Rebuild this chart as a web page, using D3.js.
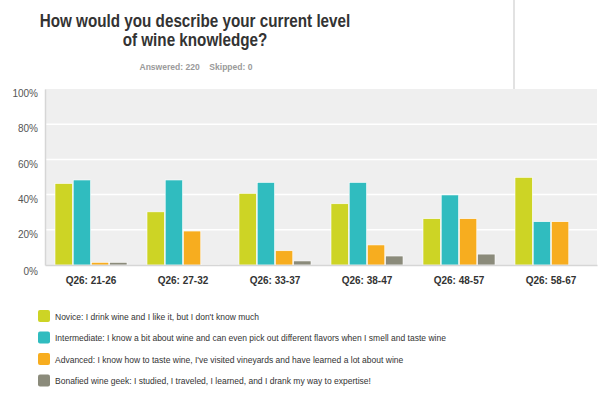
<!DOCTYPE html>
<html><head><meta charset="utf-8">
<script src="https://cdn.jsdelivr.net/npm/d3@7"></script>
<style>body{margin:0;background:#fff;}svg{display:block;font-family:"Liberation Sans",Arial,sans-serif;}</style>
</head><body><svg id="c" width="599" height="396"></svg>
<script>
const categories = ["Q26: 21-26","Q26: 27-32","Q26: 33-37","Q26: 38-47","Q26: 48-57","Q26: 58-67"];
const seriesNames = [
  "Novice: I drink wine and I like it, but I don't know much",
  "Intermediate: I know a bit about wine and can even pick out different flavors when I smell and taste wine",
  "Advanced: I know how to taste wine, I've visited vineyards and have learned a lot about wine",
  "Bonafied wine geek: I studied, I traveled, I learned, and I drank my way to expertise!"
];
const novice       = [46.3, 30.2, 40.7, 34.8, 26.3, 49.8];
const intermediate = [48.3, 48.3, 46.9, 46.9, 39.8, 24.6];
const advanced     = [1.5, 19.3, 8.1, 11.4, 26.3, 24.6];
const geek         = [1.5, 0.4, 2.3, 5.1, 6.2, 0];
const yTicks = [0, 20, 40, 60, 80, 100];
const colors = ["#cdd425","#30bcbf","#f7ad1f","#8b8b7b"];
const series = [novice, intermediate, advanced, geek];

const svg = d3.select("#c");
const L = 45, R = 597, T = 89, B = 265;

function squeeze(sel, f) {
  sel.each(function(){ const w = this.getComputedTextLength();
    d3.select(this).attr("textLength", w*f).attr("lengthAdjust","spacingAndGlyphs"); });
}

// divider line top-right
svg.append("rect").attr("x",513).attr("y",0).attr("width",2).attr("height",T).attr("fill","#e2e2e2");

// title
const title = svg.append("text").attr("text-anchor","middle").attr("fill","#333")
  .attr("font-size",17.5).attr("font-weight","bold");
const t1 = title.append("tspan").attr("x",195).attr("y",27).text("How would you describe your current level");
const t2 = title.append("tspan").attr("x",195).attr("y",46).text("of wine knowledge?");
squeeze(t1, 0.87); squeeze(t2, 0.87);
const sub = svg.append("text").attr("x",196).attr("y",70).attr("text-anchor","middle")
  .attr("fill","#9a9a9a").attr("font-size",9.5).attr("font-weight","bold")
  .attr("xml:space","preserve").text("Answered: 220    Skipped: 0");
squeeze(sub, 0.9);

const x = d3.scaleBand().domain(categories).range([L, R]);
const inner = d3.scaleBand().domain(d3.range(4)).range([0, 72]).paddingInner(0.05);
const y = d3.scaleLinear().domain([0,100]).range([B, T]);

svg.append("rect").attr("x",L).attr("y",T).attr("width",R-L).attr("height",B-T).attr("fill","#efefef");

// gridlines
svg.append("g").selectAll("line").data(yTicks.filter(d=>d>0 && d<100)).join("line")
  .attr("x1",L).attr("x2",R).attr("y1",d=>y(d)).attr("y2",d=>y(d))
  .attr("stroke","#fff").attr("stroke-width",1.5);

// y axis
const ya = svg.append("g").attr("transform",`translate(${L},0)`)
  .call(d3.axisLeft(y).tickValues(yTicks).tickFormat(d=>d+"%").tickSize(0).tickPadding(7));
ya.select(".domain").attr("stroke","#d6d6d6").attr("stroke-width",1.5);
ya.selectAll("text").attr("font-size",10).attr("fill","#555").attr("font-family","Liberation Sans, Arial, sans-serif")
  .attr("dy", d => d===0 ? "0.92em" : "0.77em");

// bars
const groups = svg.append("g").selectAll("g").data(categories).join("g")
  .attr("transform",c=>`translate(${x(c)+x.bandwidth()/2-36},0)`);
groups.selectAll("rect").data((c,i)=>series.map((s,k)=>({k, v:s[i]}))).join("rect")
  .attr("x",d=>inner(d.k)).attr("width",inner.bandwidth())
  .attr("y",d=>y(d.v)).attr("height",d=>B-y(d.v))
  .attr("fill",d=>colors[d.k]).attr("stroke","#fff").attr("stroke-width",0.6);

// x axis
const xa = svg.append("g").attr("transform",`translate(0,${B})`)
  .call(d3.axisBottom(x).tickSize(0).tickPadding(12));
xa.select(".domain").attr("stroke","#d6d6d6").attr("stroke-width",1.5);
xa.selectAll("text").attr("font-size",10).attr("font-weight","bold").attr("fill","#333")
  .attr("font-family","Liberation Sans, Arial, sans-serif");

// legend
const lg = svg.append("g").selectAll("g").data(seriesNames).join("g")
  .attr("transform",(d,i)=>`translate(38,${316+i*21.5})`);
lg.append("rect").attr("x",0).attr("y",-6).attr("width",12).attr("height",12).attr("rx",2)
  .attr("fill",(d,i)=>colors[i]);
const lt = lg.append("text").attr("x",17).attr("y",3.5).attr("font-size",9.3).attr("fill","#333").text(d=>d);
squeeze(lt, 0.915);
</script></body></html>
